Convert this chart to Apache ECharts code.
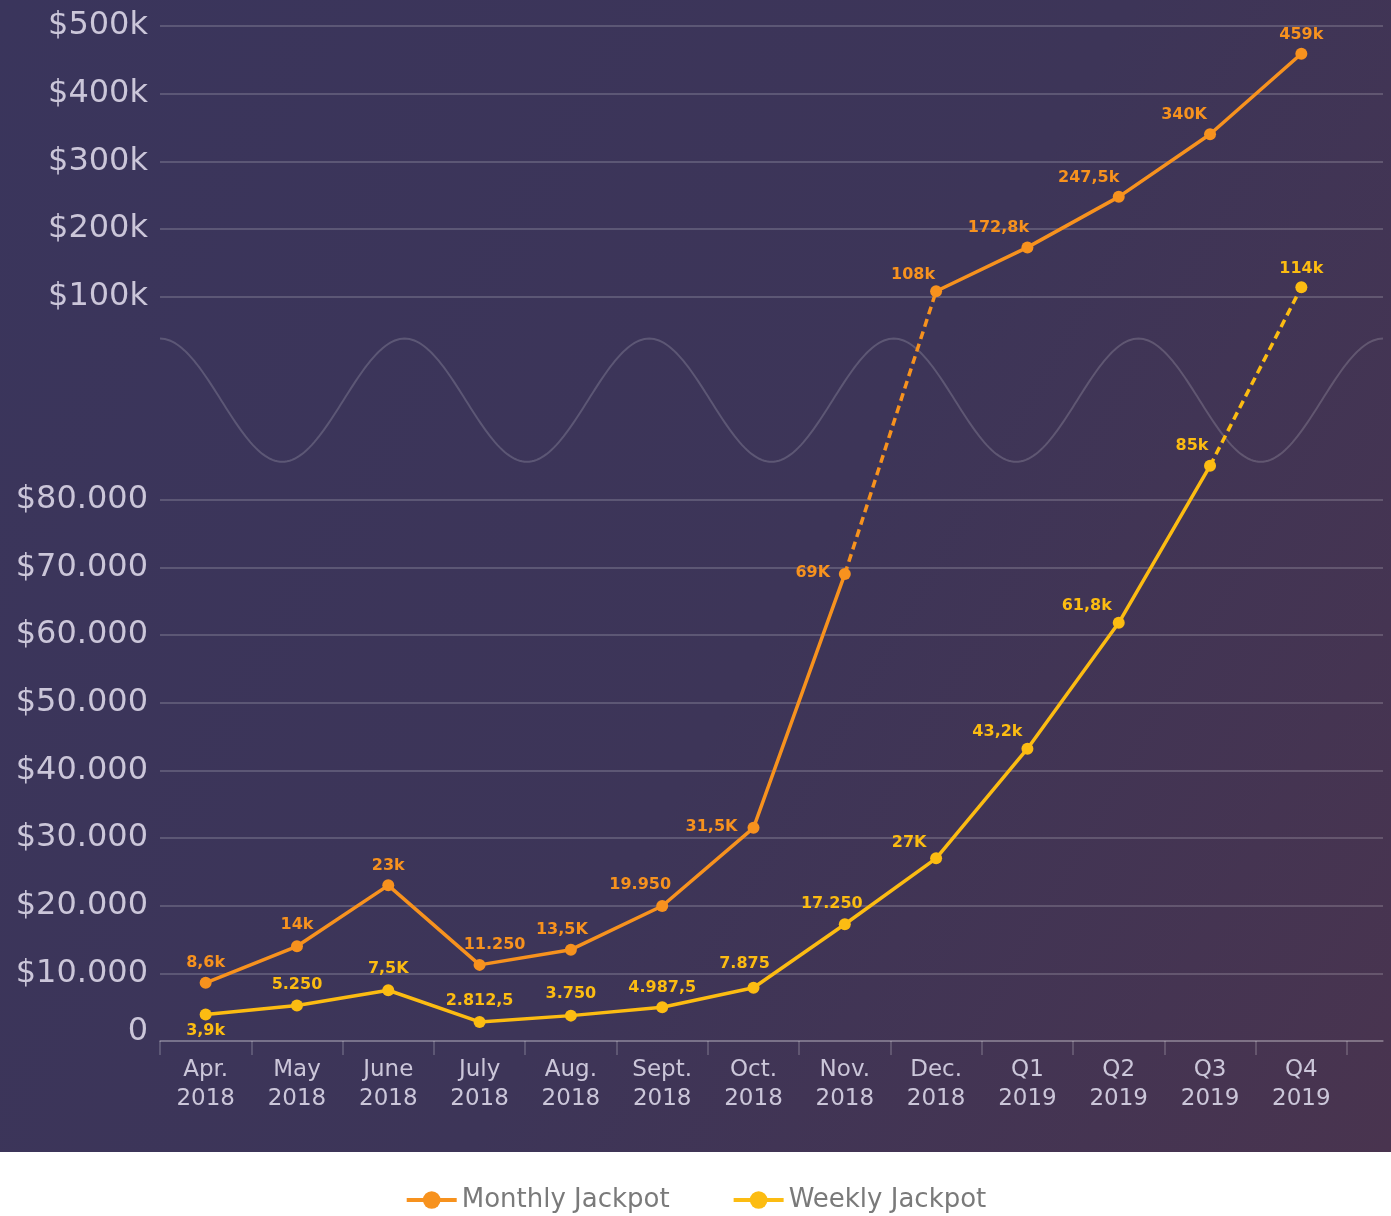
<!DOCTYPE html>
<html>
<head>
<meta charset="utf-8">
<script src="https://cdn.jsdelivr.net/npm/echarts@6/dist/echarts.min.js"></script>
<style>
html,body{margin:0;padding:0;background:#fff;}
#main{width:1391px;height:1216px;background:#fff linear-gradient(120deg,#3a355c 0%,#3d3558 55%,#49344f 100%) no-repeat;background-size:1391px 1152px;}
</style>
</head>
<body>
<div id="main"></div>
<script>
// data
var categories=['Apr.\n2018','May\n2018','June\n2018','July\n2018','Aug.\n2018','Sept.\n2018','Oct.\n2018','Nov.\n2018','Dec.\n2018','Q1\n2019','Q2\n2019','Q3\n2019','Q4\n2019'];
var monthlyValues=[8600,14000,23000,11250,13500,19950,31500,69000,108000,172800,247500,340000,459000];
var weeklyValues=[3900,5250,7500,2812.5,3750,4987.5,7875,17250,27000,43200,61800,85000,114000];
var monthlyLabels=['8,6k','14k','23k','11.250','13,5K','19.950','31,5K','69K','108k','172,8k','247,5k','340K','459k'];
var weeklyLabels=['3,9k','5.250','7,5K','2.812,5','3.750','4.987,5','7.875','17.250','27K','43,2k','61,8k','85k','114k'];
var yTickLabels=['0','$10.000','$20.000','$30.000','$40.000','$50.000','$60.000','$70.000','$80.000','','','$100k','$200k','$300k','$400k','$500k'];
// the segment drawn dashed starts at this index
var monthlyDashFrom=7;
var weeklyDashFrom=11;

// label placement (px, relative to the point)
var monthlyLabelOffset=[[0,-20],[0,-21],[0,-20],[15,-20],[-9,-20],[-22,-21],[-42,-1],[-32,-1],[-23,-16],[-29,-20],[-30,-19],[-26,-19],[0,-19]];
var weeklyLabelOffset=[[0,16],[0,-21],[0,-21],[0,-21],[0,-22],[0,-19],[-9,-24],[-13,-20],[-27,-15],[-30,-17],[-32,-17],[-18,-20],[0,-18]];

var cOrange='#f7921e';
var cYellow='#fcbc12';
var cGrid='rgba(255,255,255,0.17)';
var cText='#cbc6d9';

// broken scale: 0-80k at 10k per step, 100k-500k at 100k per step, 2 steps of gap
function toAxis(v){
    return v<100000 ? v/10000 : 11+(v-100000)/100000;
}

function segment(values,from,to){
    return values.map(function(v,i){return (i>=from&&i<=to)?toAxis(v):null;});
}

function points(values,labels,offsets){
    return values.map(function(v,i){
        return {value:toAxis(v),label:{formatter:labels[i],offset:offsets[i]}};
    });
}

// tiny deep-merge helper
var $={extend:function(deep,target){
    for(var a=2;a<arguments.length;a++){
        var src=arguments[a];
        for(var k in src){
            var v=src[k];
            if(v&&typeof v==='object'&&!Array.isArray(v)){
                target[k]=$.extend(true,(target[k]&&typeof target[k]==='object')?target[k]:{},v);
            }else{
                target[k]=v;
            }
        }
    }
    return target;
}};

function lineSeries(name,color,values,dashFrom,labels,offsets){
    var last=values.length-1;
    var base={
        name:name,type:'line',xAxisIndex:1,yAxisIndex:1,
        symbol:'circle',symbolSize:12,showSymbol:false,
        itemStyle:{color:color},
        lineStyle:{color:color,width:3.5},
        silent:true,z:2
    };
    var list=[];
    list.push($.extend(true,{},base,{data:segment(values,0,dashFrom)}));
    list.push($.extend(true,{},base,{data:segment(values,dashFrom,dashFrom+1),lineStyle:{type:[8,5]}}));
    if(dashFrom+1<last){
        list.push($.extend(true,{},base,{data:segment(values,dashFrom+1,last)}));
    }
    list.push($.extend(true,{},base,{
        data:points(values,labels,offsets),
        showSymbol:true,z:3,
        lineStyle:{width:0,opacity:0},
        label:{show:true,position:'inside',color:color,fontFamily:'DejaVu Sans',fontWeight:'bold',fontSize:16}
    }));
    return list;
}

var gridLineColors=yTickLabels.map(function(t){return t===''?'rgba(0,0,0,0)':cGrid;});

var option={
    animation:false,
    grid:[
        {left:160,right:8,top:26,bottom:175},
        {left:160,right:44,top:26,bottom:175}
    ],
    xAxis:[
        {type:'value',gridIndex:0,min:0,max:1,
            axisLine:{show:true,lineStyle:{color:cGrid,width:2}},
            axisTick:{show:false},axisLabel:{show:false},splitLine:{show:false}},
        {type:'category',gridIndex:1,data:categories,boundaryGap:true,
            axisLine:{show:false},
            axisTick:{show:true,length:14,lineStyle:{color:cGrid,width:2}},
            axisLabel:{color:cText,fontFamily:'DejaVu Sans',fontSize:23,lineHeight:29,margin:15}}
    ],
    yAxis:[
        {type:'value',gridIndex:0,min:0,max:15,interval:1,
            axisLine:{show:false},axisTick:{show:false},
            axisLabel:{color:cText,fontFamily:'DejaVu Sans',fontSize:32,margin:12,
                formatter:function(v){var t=yTickLabels[Math.round(v)];return t==='0'?'{zero|0}':t;},
                rich:{zero:{color:cText,fontFamily:'DejaVu Sans',fontSize:32,padding:[0,0,18,0]}}},
            splitLine:{show:true,lineStyle:{color:gridLineColors,width:2}}},
        {type:'value',gridIndex:1,min:0,max:15,interval:1,show:false,splitLine:{show:false}}
    ],
    legend:{
        bottom:-2,left:'center',itemWidth:50,itemHeight:22,itemGap:62,
        data:['Monthly Jackpot','Weekly Jackpot'],
        lineStyle:{width:4},
        textStyle:{color:'#7a7a7a',fontFamily:'DejaVu Sans',fontSize:26}
    },
    series:[].concat(
        lineSeries('Monthly Jackpot',cOrange,monthlyValues,monthlyDashFrom,monthlyLabels,monthlyLabelOffset),
        lineSeries('Weekly Jackpot',cYellow,weeklyValues,weeklyDashFrom,weeklyLabels,weeklyLabelOffset)
    )
};

var chart=echarts.init(document.getElementById('main'));
chart.setOption(option);

// wavy break marker across the gap between the two scales
var x0=chart.convertToPixel({xAxisIndex:0},0);
var x1=chart.convertToPixel({xAxisIndex:0},1);
var yTop=chart.convertToPixel({yAxisIndex:0},10.38);
var yBot=chart.convertToPixel({yAxisIndex:0},8.56);
var wave=[];
for(var i=0;i<=500;i++){
    var t=i/500;
    wave.push([x0+t*(x1-x0),(yTop+yBot)/2-(yBot-yTop)/2*Math.cos(2*Math.PI*5*t)]);
}
chart.setOption({graphic:[{type:'polyline',z:1,silent:true,shape:{points:wave},style:{stroke:'rgba(255,255,255,0.17)',lineWidth:2,fill:null}}]});
</script>
</body>
</html>
